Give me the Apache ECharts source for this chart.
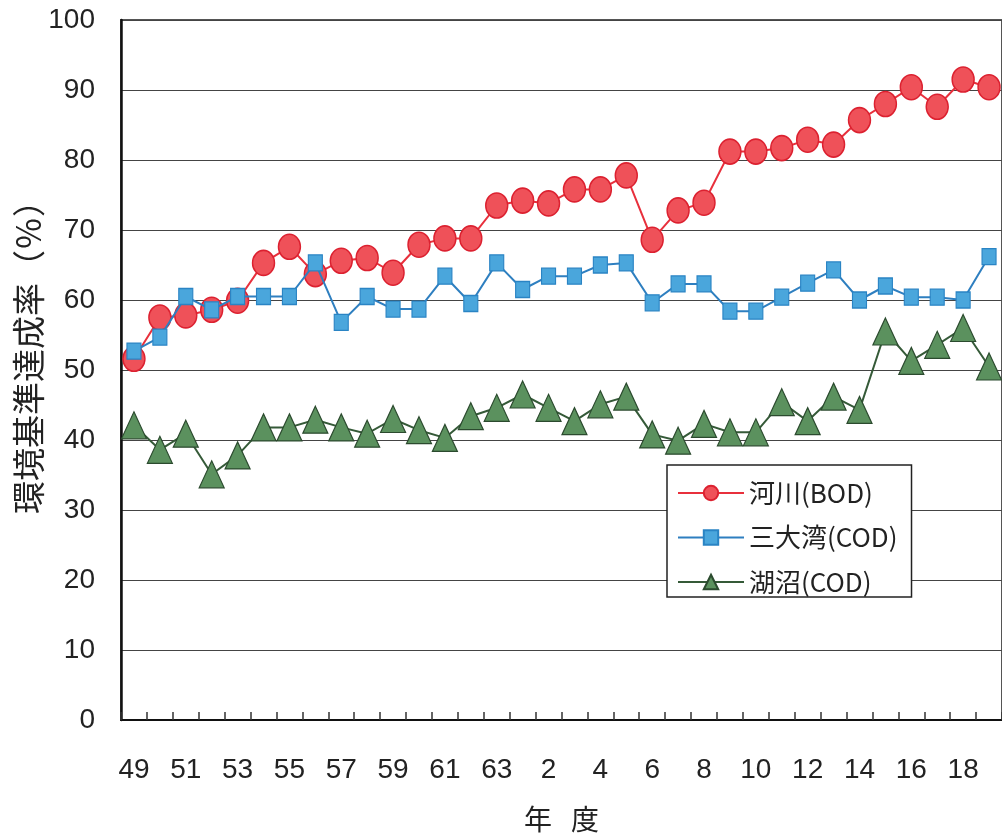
<!DOCTYPE html>
<html>
<head>
<meta charset="utf-8">
<title>環境基準達成率の推移</title>
<script src="https://cdn.jsdelivr.net/npm/echarts@6/dist/echarts.min.js"></script>
<style>
  html, body { margin: 0; padding: 0; background: #fff; }
  #chart { width: 1002px; height: 838px; }
</style>
</head>
<body>
<div id="chart"></div>
<script>
// 年度 (昭和49〜63, 平成元〜19)
const years = ['49','50','51','52','53','54','55','56','57','58','59','60','61','62','63',
               '元','2','3','4','5','6','7','8','9','10','11','12','13','14','15','16','17','18','19'];

// 環境基準達成率 (%)
const riverBOD = [51.6, 57.5, 57.8, 58.6, 59.9, 65.3, 67.6, 63.7, 65.6, 66.0, 63.9, 67.9, 68.8, 68.8, 73.5,
                  74.2, 73.8, 75.8, 75.8, 77.8, 68.6, 72.8, 73.9, 81.2, 81.2, 81.7, 82.9, 82.2, 85.7, 88.0,
                  90.4, 87.6, 91.5, 90.4];
const bayCOD   = [52.7, 54.7, 60.5, 58.6, 60.5, 60.5, 60.5, 65.3, 56.8, 60.5, 58.7, 58.7, 63.4, 59.5, 65.3,
                  61.5, 63.4, 63.4, 65.0, 65.3, 59.6, 62.3, 62.3, 58.4, 58.4, 60.4, 62.4, 64.3, 60.0, 62.0,
                  60.4, 60.4, 60.0, 66.2];
const lakeCOD  = [42.1, 38.6, 40.9, 35.1, 37.8, 41.8, 41.8, 42.9, 41.8, 40.9, 43.0, 41.4, 40.3, 43.4, 44.6,
                  46.5, 44.6, 42.7, 45.1, 46.2, 40.8, 39.9, 42.3, 41.1, 41.1, 45.4, 42.7, 46.2, 44.3, 55.5,
                  51.3, 53.6, 56.0, 50.5];

const seriesNames = ['河川(BOD)', '三大湾(COD)', '湖沼(COD)'];

const numFont = "'Liberation Sans', Arial, sans-serif";
const jpFont = "'Noto Sans CJK JP', 'Noto Sans', sans-serif";

const chart = echarts.init(document.getElementById('chart'), null, { renderer: 'canvas' });

chart.setOption({
  animation: false,
  backgroundColor: '#ffffff',
  grid: {
    left: 121, top: 20, width: 885, height: 702,
    show: true, borderColor: '#555', borderWidth: 2, backgroundColor: 'transparent'
  },
  legend: {
    data: seriesNames,
    orient: 'vertical',
    left: 667, top: 465,
    padding: [14, 14, 1, 10],
    itemWidth: 66, itemHeight: 18, itemGap: 16.5,
    backgroundColor: '#ffffff',
    borderColor: '#222', borderWidth: 1.5, borderRadius: 0,
    textStyle: { fontFamily: jpFont, fontSize: 26, color: '#222', lineHeight: 28 },
    z: 10
  },
  xAxis: {
    type: 'category',
    data: years,
    boundaryGap: true,
    name: '年{sp| }度',
    nameLocation: 'middle',
    nameGap: 85,
    nameTextStyle: {
      fontFamily: jpFont, fontSize: 28, color: '#222',
      rich: { sp: { width: 19, fontSize: 28 } }
    },
    axisLine: { show: true, lineStyle: { color: '#111', width: 2 } },
    axisTick: { show: true, inside: true, length: 8, interval: 0, lineStyle: { color: '#333', width: 1.5 } },
    axisLabel: { interval: 1, margin: 36, fontFamily: numFont, fontSize: 28, color: '#222' },
    splitLine: { show: false }
  },
  yAxis: {
    type: 'value',
    min: 0, max: 100, interval: 10,
    axisLine: { show: true, lineStyle: { color: '#111', width: 2.5 } },
    axisTick: { show: false },
    axisLabel: { margin: 26, fontFamily: numFont, fontSize: 28, color: '#222' },
    splitLine: { show: true, lineStyle: { color: '#444', width: 1.2 } }
  },
  graphic: [{
    type: 'text',
    x: 28, y: 349,
    rotation: Math.PI / 2,
    style: {
      text: '環境基準達成率（％）',
      font: "33px 'Noto Sans CJK JP', sans-serif",
      fill: '#222',
      align: 'center',
      verticalAlign: 'middle'
    }
  }],
  series: [
    {
      name: seriesNames[0],
      type: 'line',
      data: riverBOD,
      symbol: 'circle',
      symbolSize: [22, 25],
      showAllSymbol: true,
      lineStyle: { color: '#e8303c', width: 2 },
      itemStyle: { color: '#ef5159', borderColor: '#dc2130', borderWidth: 1.5 },
      z: 3
    },
    {
      name: seriesNames[1],
      type: 'line',
      data: bayCOD,
      symbol: 'rect',
      symbolSize: [14, 16],
      showAllSymbol: true,
      lineStyle: { color: '#2e7fc0', width: 2 },
      itemStyle: { color: '#4aa6dc', borderColor: '#2a84c4', borderWidth: 1.2 },
      z: 4
    },
    {
      name: seriesNames[2],
      type: 'line',
      data: lakeCOD,
      symbol: 'triangle',
      symbolSize: [25, 27],
      showAllSymbol: true,
      lineStyle: { color: '#355a38', width: 2 },
      itemStyle: { color: '#5b915e', borderColor: '#2b4a2e', borderWidth: 1.2 },
      z: 5
    }
  ]
});
</script>
</body>
</html>
